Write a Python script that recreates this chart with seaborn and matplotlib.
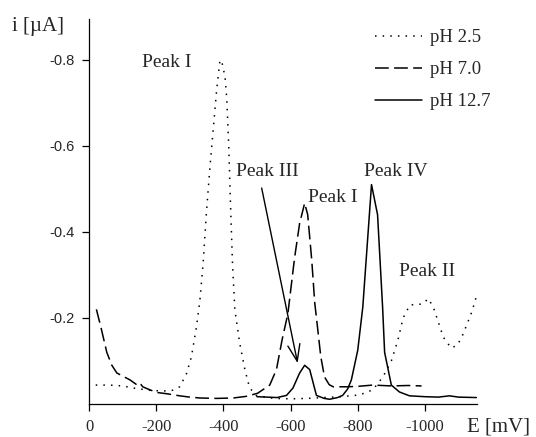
import numpy as np
import pandas as pd
import matplotlib
matplotlib.use("Agg")
import matplotlib.pyplot as plt
import seaborn as sns
from matplotlib.lines import Line2D

# ---- data (E in mV, i in uA) ----
e_ph25 = [-20, -60, -100, -140, -180, -220, -250, -270, -290, -305, -320, -330, -340, -350,
          -360, -370, -380, -390, -397, -405, -410, -416, -421, -427, -434, -449, -464, -478,
          -497, -550, -600, -650, -700, -750, -805, -845, -875, -900, -920, -935, -955, -975,
          -993, -1010, -1025, -1040, -1055, -1078, -1097, -1112, -1125, -1140, -1153]
i_ph25 = [-0.044, -0.044, -0.042, -0.036, -0.032, -0.030, -0.032, -0.040, -0.07, -0.11, -0.18,
          -0.24, -0.33, -0.45, -0.55, -0.64, -0.73, -0.80, -0.79, -0.76, -0.71, -0.60, -0.47,
          -0.33, -0.22, -0.14, -0.08, -0.038, -0.020, -0.013, -0.012, -0.013, -0.015, -0.017,
          -0.021, -0.033, -0.063, -0.10, -0.15, -0.20, -0.23, -0.232, -0.232, -0.245, -0.225,
          -0.19, -0.155, -0.13, -0.137, -0.16, -0.185, -0.215, -0.25]

e_ph70 = [-22, -35, -53, -68, -83, -100, -122, -140, -150, -160, -175, -200, -230, -270, -300,
          -330, -380, -430, -470, -502, -538, -558, -575, -592, -612, -627, -642, -651, -663,
          -672, -680, -690, -701, -715, -727, -767, -800, -845, -900, -950, -990]
i_ph70 = [-0.22, -0.18, -0.12, -0.09, -0.072, -0.065, -0.056, -0.046, -0.050, -0.040, -0.035,
          -0.027, -0.024, -0.019, -0.016, -0.014, -0.013, -0.014, -0.018, -0.025, -0.044,
          -0.08, -0.15, -0.21, -0.34, -0.42, -0.467, -0.44, -0.335, -0.235, -0.18, -0.11,
          -0.063, -0.045, -0.040, -0.040, -0.041, -0.044, -0.042, -0.043, -0.042]

e_ph127 = [-500, -530, -560, -588, -607, -627, -642, -657, -667, -677, -700, -716, -740, -755,
           -770, -781, -800, -815, -841, -859, -874, -880, -900, -924, -954, -1000, -1040,
           -1073, -1100, -1153]
i_ph127 = [-0.017, -0.016, -0.015, -0.020, -0.037, -0.072, -0.09, -0.08, -0.05, -0.02, -0.013,
           -0.011, -0.015, -0.020, -0.035, -0.056, -0.125, -0.225, -0.51, -0.44, -0.225,
           -0.12, -0.044, -0.028, -0.019, -0.017, -0.016, -0.019, -0.016, -0.015]

series_labels = ["pH 2.5", "pH 7.0", "pH 12.7"]
x_ticks = [0, -200, -400, -600, -800, -1000]
x_ticklabels = ["0", "-200", "-400", "-600", "-800", "-1000"]
y_ticks = [-0.2, -0.4, -0.6, -0.8]
y_ticklabels = ["-0.2", "-0.4", "-0.6", "-0.8"]

sns.set_theme(style="white")
plt.rcParams["font.family"] = ["Liberation Serif", "DejaVu Serif"]

fig = plt.figure(figsize=(5.36, 4.37), dpi=100)
ax = fig.add_axes([89 / 536, 1 - 404 / 437, (477 - 89) / 536, (404 - 19) / 437])

styles = [(0, (1, 4)), (0, (9, 3.5)), "-"]
datasets = [(e_ph25, i_ph25), (e_ph70, i_ph70), (e_ph127, i_ph127)]
handles = []
for (ex, iy), ls, lab in zip(datasets, styles, series_labels):
    df = pd.DataFrame({"E": ex, "i": iy})
    sns.lineplot(data=df, x="E", y="i", ax=ax, color="black", linestyle=ls,
                 linewidth=1.1, sort=False, estimator=None, legend=False)
    handles.append(Line2D([], [], color="black", linestyle=ls, linewidth=1.1, label=lab))

ax.set_xlim(0, -1155)
ax.set_ylim(0, -0.895)
ax.set_xticks(x_ticks)
ax.set_xticklabels(x_ticklabels, fontfamily="Liberation Serif", fontsize=12)
ax.set_yticks(y_ticks)
ax.set_yticklabels(y_ticklabels, fontfamily="Liberation Sans", fontsize=10.5)
ax.set_xlabel("")
ax.set_ylabel("")
for s in ["top", "right"]:
    ax.spines[s].set_visible(False)
for s in ["left", "bottom"]:
    ax.spines[s].set_color("black")
    ax.spines[s].set_linewidth(0.9)
ax.tick_params(axis="both", direction="out", length=5, width=0.9, color="black",
               bottom=True, left=True)
ax.tick_params(axis="x", pad=6)
ax.tick_params(axis="y", pad=5)

fig.text(12 / 536, 1 - 27 / 437, "i [µA]", fontsize=15, va="center", ha="left")
fig.text(467 / 536, 1 - 427 / 437, "E [mV]", fontsize=15, va="center", ha="left")

txt_kw = dict(fontsize=14, va="center", ha="left")
ax.text(-157, -0.795, "Peak I", **txt_kw)
ax.text(-437, -0.540, "Peak III", **txt_kw)
ax.text(-651, -0.481, "Peak I", **txt_kw)
ax.text(-820, -0.540, "Peak IV", **txt_kw)
ax.text(-924, -0.309, "Peak II", **txt_kw)
ax.annotate("", xy=(-621, -0.095), xytext=(-514, -0.502),
            arrowprops=dict(arrowstyle="->,head_length=0.6,head_width=0.22",
                            color="black", lw=1.0, mutation_scale=20,
                            shrinkA=0, shrinkB=0))

leg = fig.legend(handles=handles, loc="upper left",
                 bbox_to_anchor=(375 / 536, 1 - 29 / 437), frameon=False,
                 fontsize=13.5, handlelength=2.5, handletextpad=0.45,
                 labelspacing=0.8, borderpad=0, borderaxespad=0)

fig.savefig("out.png", dpi=100)
